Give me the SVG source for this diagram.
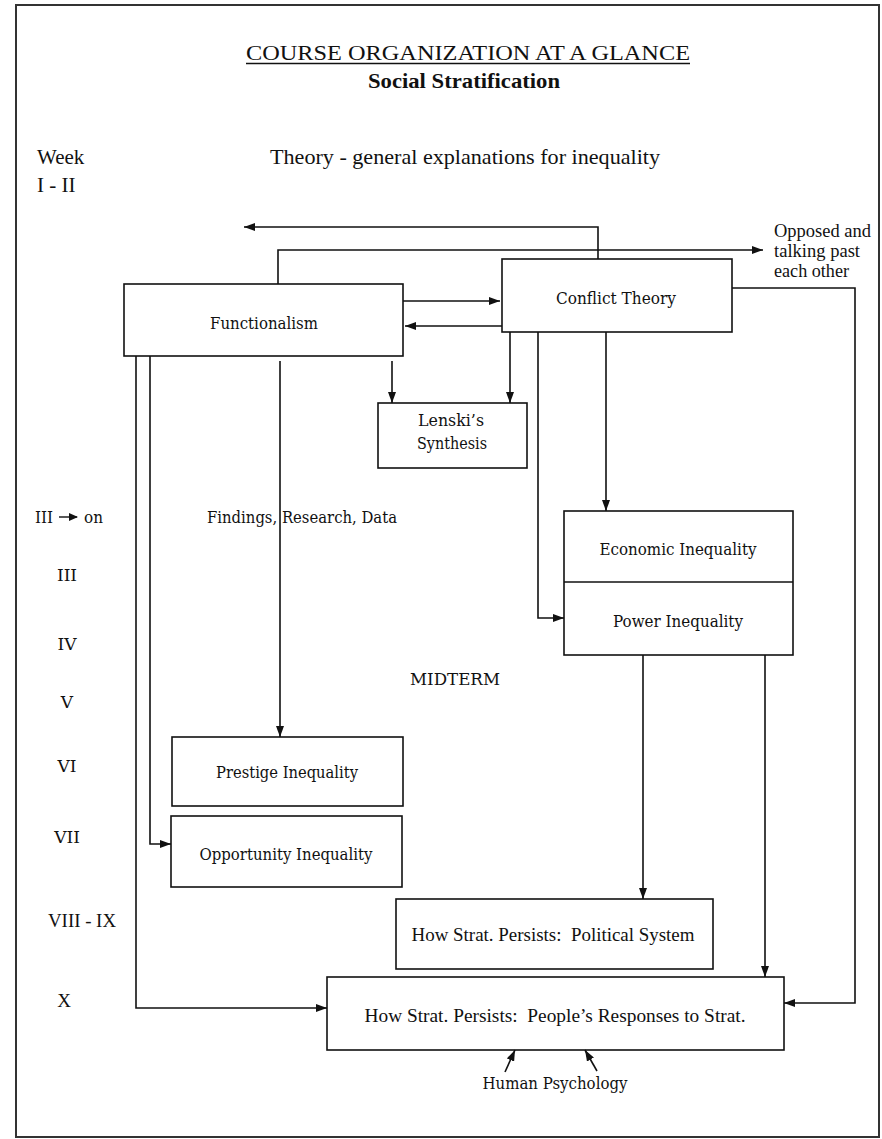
<svg xmlns="http://www.w3.org/2000/svg" width="882" height="1139" viewBox="0 0 882 1139">
<defs>
<style>
text{font-family:"Liberation Serif","Times New Roman",serif;fill:#111;font-size:19px}
.cs{font-family:"DejaVu Serif","Liberation Serif",serif;font-size:17px}
.c{text-anchor:middle}
.box{fill:none;stroke:#111;stroke-width:1.6}
.ln{fill:none;stroke:#111;stroke-width:1.6}
.arr{marker-end:url(#ah)}
.pre{white-space:pre}
</style>
<marker id="ah" markerUnits="userSpaceOnUse" markerWidth="11" markerHeight="8" refX="11" refY="4" orient="auto"><path d="M0,0 L11,4 L0,8 z" fill="#111"/></marker>
</defs>
<rect x="0" y="0" width="882" height="1139" fill="#fff"/>
<rect x="16" y="5" width="863" height="1132" fill="none" stroke="#333" stroke-width="2"/>

<g id="header">
<text class="c" x="468" y="60" style="font-size:22px" textLength="444" lengthAdjust="spacingAndGlyphs">COURSE ORGANIZATION AT A GLANCE</text>
<line x1="246" y1="63.5" x2="690" y2="63.5" stroke="#111" stroke-width="1.5"/>
<text class="c" x="464" y="88" style="font-size:21px;font-weight:bold" textLength="192" lengthAdjust="spacingAndGlyphs">Social Stratification</text>
<text x="37" y="164" style="font-size:21px">Week</text>
<text x="37" y="192" style="font-size:21px">I - II</text>
<text x="270" y="164" style="font-size:21px" textLength="390" lengthAdjust="spacingAndGlyphs">Theory - general explanations for inequality</text>
</g>

<g id="weeks">
<text class="cs" x="35" y="523" textLength="18" lengthAdjust="spacingAndGlyphs">III</text>
<line x1="59" y1="517" x2="77" y2="517" stroke="#111" stroke-width="1.4"/>
<path d="M69,513 L78,517 L69,521 z" fill="#111"/>
<text class="cs" x="84" y="523" textLength="19" lengthAdjust="spacingAndGlyphs">on</text>
<text class="cs c" x="67" y="581">III</text>
<text class="cs c" x="67" y="650">IV</text>
<text class="cs c" x="67" y="708">V</text>
<text class="cs c" x="67" y="772">VI</text>
<text class="cs c" x="67" y="843">VII</text>
<text class="c" x="82" y="927" textLength="68" lengthAdjust="spacingAndGlyphs">VIII - IX</text>
<text class="c" x="64" y="1007">X</text>
</g>

<g id="connectors">
<path class="ln arr" d="M598,259 V227 H244"/>
<path class="ln arr" d="M278,284 V250 H763"/>
<path class="ln arr" d="M403,301 H500"/>
<path class="ln arr" d="M502,326 H405"/>
<path class="ln arr" d="M392,361 V403"/>
<path class="ln arr" d="M510,332 V403"/>
<path class="ln arr" d="M538,332 V618 H564"/>
<path class="ln arr" d="M606,332 V511"/>
<path class="ln arr" d="M732,288 H855 V1003 H784"/>
<path class="ln arr" d="M280,361 V737"/>
<path class="ln arr" d="M136,356 V1008 H327"/>
<path class="ln arr" d="M150,356 V844 H171"/>
<path class="ln arr" d="M643,655 V899"/>
<path class="ln arr" d="M765,655 V977"/>
<path class="ln arr" d="M505,1072 L515,1050"/>
<path class="ln arr" d="M597,1071 L585,1050"/>
</g>

<g id="functionalism">
<rect class="box" x="124" y="284" width="279" height="72"/>
<text class="cs c" x="264" y="329" textLength="108" lengthAdjust="spacingAndGlyphs">Functionalism</text>
</g>
<g id="conflict-theory">
<rect class="box" x="502" y="259" width="230" height="73"/>
<text class="cs c" x="616" y="304" textLength="120" lengthAdjust="spacingAndGlyphs">Conflict Theory</text>
</g>
<g id="opposed-label">
<text x="774" y="237" style="font-size:18.5px" textLength="97" lengthAdjust="spacingAndGlyphs">Opposed and</text>
<text x="774" y="257" style="font-size:18.5px" textLength="86" lengthAdjust="spacingAndGlyphs">talking past</text>
<text x="774" y="277" style="font-size:18.5px" textLength="75" lengthAdjust="spacingAndGlyphs">each other</text>
</g>
<g id="lenski">
<rect class="box" x="378" y="403" width="149" height="65"/>
<text class="cs c" x="451" y="426" textLength="66" lengthAdjust="spacingAndGlyphs">Lenski’s</text>
<text class="cs c" x="452" y="449" textLength="70" lengthAdjust="spacingAndGlyphs">Synthesis</text>
</g>
<g id="findings-label">
<text class="cs c" x="302" y="523" textLength="190" lengthAdjust="spacingAndGlyphs">Findings, Research, Data</text>
</g>
<g id="economic-power">
<rect class="box" x="564" y="511" width="229" height="144"/>
<line class="ln" x1="564" y1="582" x2="793" y2="582"/>
<text class="cs c" x="678" y="555" textLength="157" lengthAdjust="spacingAndGlyphs">Economic Inequality</text>
<text class="cs c" x="678" y="627" textLength="130" lengthAdjust="spacingAndGlyphs">Power Inequality</text>
</g>
<g id="midterm">
<text class="cs" x="410" y="685" textLength="90" lengthAdjust="spacingAndGlyphs">MIDTERM</text>
</g>
<g id="prestige">
<rect class="box" x="172" y="737" width="231" height="69"/>
<text class="cs c" x="287" y="778" textLength="142" lengthAdjust="spacingAndGlyphs">Prestige Inequality</text>
</g>
<g id="opportunity">
<rect class="box" x="171" y="816" width="231" height="71"/>
<text class="cs c" x="286" y="860" textLength="173" lengthAdjust="spacingAndGlyphs">Opportunity Inequality</text>
</g>
<g id="political">
<rect class="box" x="396" y="899" width="317" height="70"/>
<text class="c pre" x="553" y="941" xml:space="preserve" textLength="283" lengthAdjust="spacingAndGlyphs">How Strat. Persists:  Political System</text>
</g>
<g id="peoples-responses">
<rect class="box" x="327" y="977" width="457" height="73"/>
<text class="c pre" x="555" y="1022" xml:space="preserve" textLength="381" lengthAdjust="spacingAndGlyphs">How Strat. Persists:  People’s Responses to Strat.</text>
</g>
<g id="human-psychology">
<text class="cs c" x="555" y="1089" textLength="145" lengthAdjust="spacingAndGlyphs">Human Psychology</text>
</g>
</svg>
